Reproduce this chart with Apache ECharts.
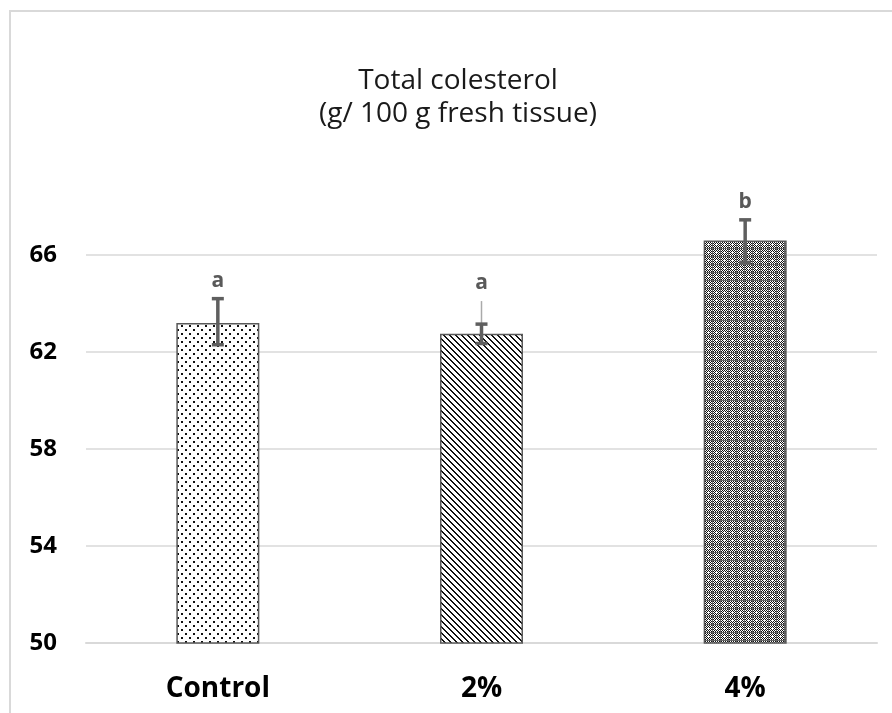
<!DOCTYPE html>
<html>
<head>
<meta charset="utf-8">
<script src="https://cdn.jsdelivr.net/npm/echarts@6/dist/echarts.min.js"></script>
<style>
html,body{margin:0;padding:0;background:#fff;}
#chart{width:892px;height:713px;}
</style>
</head>
<body>
<div id="chart"></div>
<script>
var categories = ['Control', '2%', '4%'];
var means = [63.2, 62.75, 66.6];
var errLow = [62.3, 62.35, 65.7];
var errHigh = [64.2, 63.15, 67.45];
var thinHigh = [null, 64.1, null];
var letters = ['a', 'a', 'b'];
var yTicks = [50, 54, 58, 62, 66];

function makeTile(w, h, draw) {
  var c = document.createElement('canvas');
  c.width = w; c.height = h;
  var ctx = c.getContext('2d');
  ctx.fillStyle = '#fff';
  ctx.fillRect(0, 0, w, h);
  draw(ctx);
  return c;
}
var dotTile = makeTile(8, 8, function (ctx) {
  ctx.fillStyle = '#111';
  ctx.fillRect(1, 1, 2, 2);
  ctx.fillRect(5, 5, 2, 2);
});
var diagTile = makeTile(6, 6, function (ctx) {
  ctx.fillStyle = '#111';
  for (var i = 0; i < 6; i++) {
    ctx.fillRect(i, i, 1, 1);
    ctx.fillRect((i + 1) % 6, i, 1, 1);
  }
});
var checkTile = makeTile(8, 8, function (ctx) {
  ctx.fillStyle = '#111';
  for (var y = 0; y < 8; y++) for (var x = 0; x < 8; x++) if ((x + y) % 2 === 0) ctx.fillRect(x, y, 1, 1);
  ctx.fillStyle = '#666';
  ctx.fillRect(0, 0, 1, 8);
  ctx.fillRect(0, 0, 8, 1);
  ctx.fillStyle = '#fff';
  ctx.fillRect(4, 3, 1, 3);
  ctx.fillRect(3, 4, 3, 1);
});
var tiles = [dotTile, diagTile, checkTile];

var chart = echarts.init(document.getElementById('chart'), null, {renderer: 'canvas'});

var barData = means.map(function (v, i) {
  return {
    value: v,
    itemStyle: {
      color: {image: tiles[i], repeat: 'repeat'},
      borderColor: '#595959',
      borderWidth: 1.5
    }
  };
});

var errData = categories.map(function (c, i) {
  return [i, errLow[i], errHigh[i], thinHigh[i] == null ? '-' : thinHigh[i], letters[i]];
});

var FONT = 'Open Sans';

chart.setOption({
  animation: false,
  backgroundColor: '#fff',
  graphic: [{
    type: 'rect',
    shape: {x: 10, y: 11, width: 900, height: 720},
    style: {fill: 'none', stroke: '#d9d9d9', lineWidth: 2},
    silent: true
  }, {
    type: 'text',
    x: 458, y: 98,
    style: {
      text: 'Total colesterol\n(g/ 100 g fresh tissue)',
      fontSize: 28,
      fontFamily: FONT,
      fill: '#1a1a1a',
      align: 'center',
      verticalAlign: 'middle',
      lineHeight: 33
    }
  }],
  grid: {left: 86, right: 15, top: 158, bottom: 70},
  xAxis: {
    type: 'category',
    data: categories,
    axisLine: {show: true, lineStyle: {color: '#d9d9d9', width: 2}},
    axisTick: {show: false},
    axisLabel: {fontFamily: FONT, fontWeight: 'bold', fontSize: 28, color: '#000', margin: 32}
  },
  yAxis: {
    type: 'value',
    min: yTicks[0],
    max: 70,
    interval: 4,
    axisLine: {show: false},
    axisTick: {show: false},
    axisLabel: {fontFamily: FONT, fontWeight: 'bold', fontSize: 24, color: '#000', margin: 29, showMaxLabel: false},
    splitLine: {show: true, showMaxLine: false, lineStyle: {color: '#d9d9d9', width: 1.5}}
  },
  series: [{
    type: 'bar',
    data: barData,
    barWidth: 83,
    z: 2
  }, {
    type: 'custom',
    data: errData,
    z: 5,
    encode: {x: 0, y: [1, 2]},
    renderItem: function (params, api) {
      var x = api.coord([api.value(0), api.value(1)])[0];
      var yLow = api.coord([api.value(0), api.value(1)])[1];
      var yHigh = api.coord([api.value(0), api.value(2)])[1];
      var th = api.value(3);
      var children = [];
      var topY = yHigh;
      if (th !== '-' && !isNaN(th)) {
        var yThin = api.coord([api.value(0), th])[1];
        topY = Math.min(topY, yThin);
        children.push({type: 'line', shape: {x1: x, y1: yThin, x2: x, y2: yHigh}, style: {stroke: '#aaaaaa', lineWidth: 1.5}});
      }
      var st = {stroke: '#5f5f5f', lineWidth: 3.5};
      children.push({type: 'line', shape: {x1: x, y1: yLow, x2: x, y2: yHigh}, style: st});
      children.push({type: 'line', shape: {x1: x - 6, y1: yLow, x2: x + 6, y2: yLow}, style: st});
      children.push({type: 'line', shape: {x1: x - 6, y1: yHigh, x2: x + 6, y2: yHigh}, style: st});
      children.push({type: 'text', x: x, y: topY - 18, style: {
        text: letters[params.dataIndex], fontSize: 21, fontWeight: 'bold', fontFamily: FONT, fill: '#595959',
        align: 'center', verticalAlign: 'middle'
      }});
      return {type: 'group', children: children};
    }
  }]
});
</script>
</body>
</html>
